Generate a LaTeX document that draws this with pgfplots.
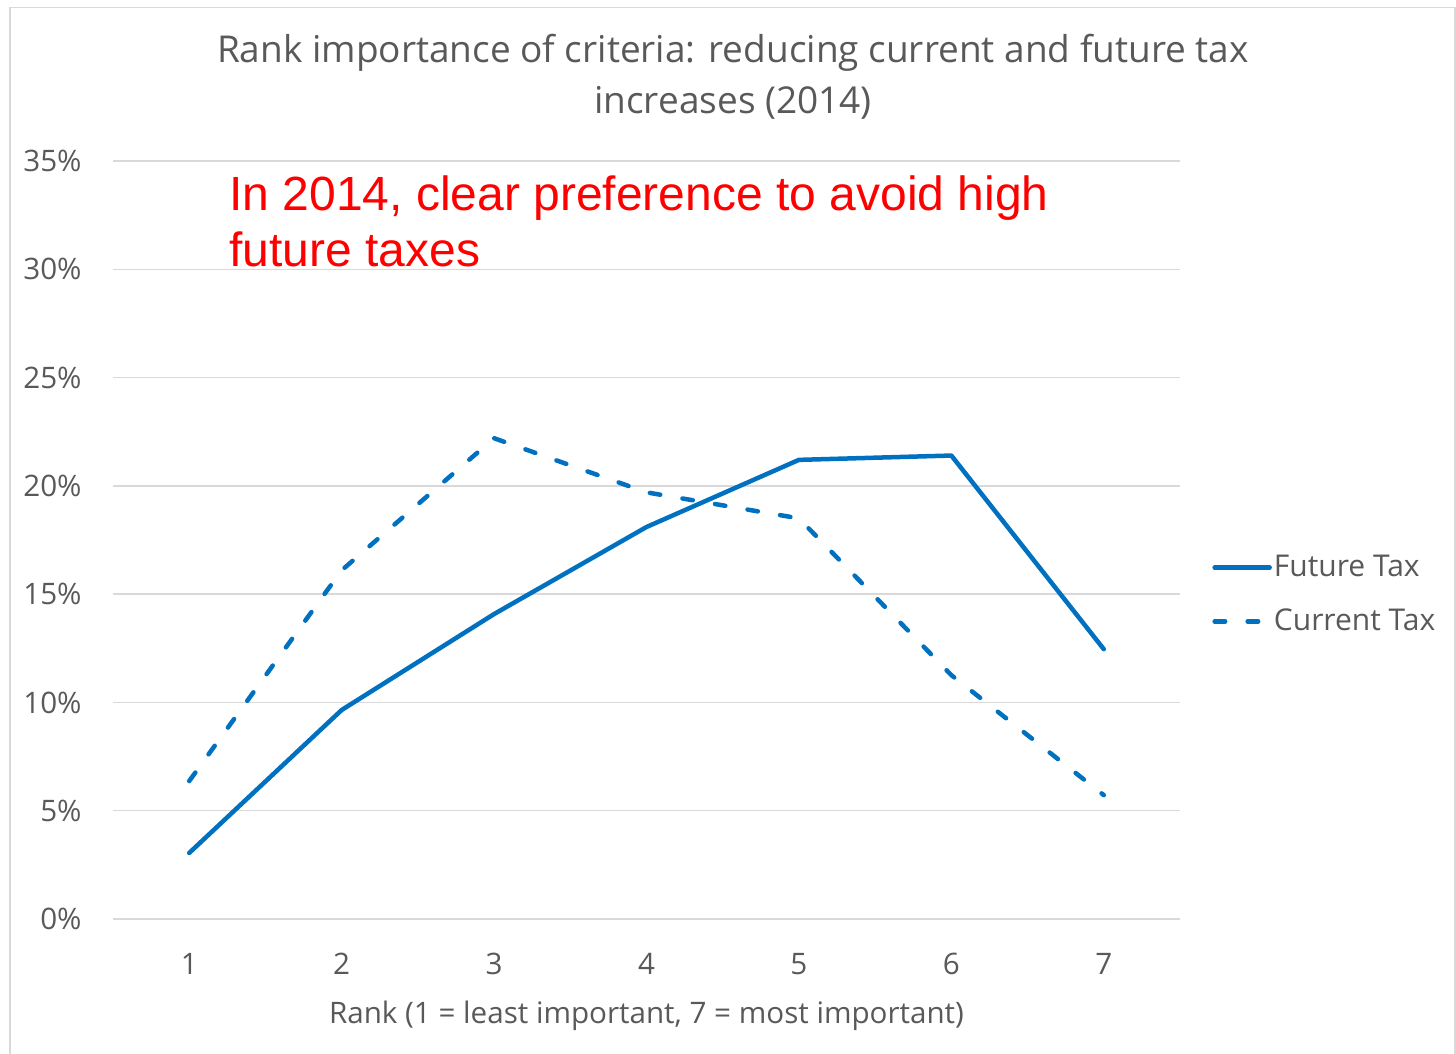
\documentclass[border=0pt]{standalone}
\usepackage{pgfplots}
\pgfplotsset{compat=1.18}
\usepackage{fontspec}
\setmainfont{Open Sans}
\newfontfamily\arialfont{Liberation Sans}
\definecolor{xlblue}{HTML}{0070C0}
\definecolor{xlgray}{HTML}{595959}
\definecolor{xlgrid}{HTML}{D9D9D9}

\begin{document}
\begin{tikzpicture}
\useasboundingbox (0,0) rectangle (728pt,-527pt);
% chart frame (bottom edge falls outside the page)
\draw[xlgrid, line width=0.75pt] (5pt,-540pt) -- (5pt,-3.75pt) -- (727.5pt,-3.75pt) -- (727.5pt,-540pt);

% chart title
\node[anchor=base, inner sep=0pt, text=xlgray, font=\fontsize{18.5}{22}\selectfont] at (366.5pt,-31.5pt)
  {Rank importance of criteria: reducing current and future tax};
\node[anchor=base, inner sep=0pt, text=xlgray, font=\fontsize{18.5}{22}\selectfont] at (366.5pt,-57pt)
  {increases (2014)};

\begin{axis}[
  at={(56.5pt,-459.5pt)}, anchor=south west,
  scale only axis, width=533.5pt, height=379pt,
  xmin=0.5, xmax=7.5, ymin=0, ymax=35,
  axis line style={draw=none},
  tick style={draw=none},
  xtick={1,...,7}, xticklabels={1,2,3,4,5,6,7},
  ytick={0,5,...,35},
  yticklabels={0\%,5\%,10\%,15\%,20\%,25\%,30\%,35\%},
  ymajorgrids, grid style={xlgrid, line width=0.75pt},
  tick label style={font=\fontsize{14.8}{17}\selectfont, text=xlgray, inner sep=0pt},
  xticklabel style={anchor=base, yshift=-27.5pt},
  yticklabel style={anchor=east, xshift=-15.5pt},
  xlabel={Rank (1 = least important, 7 = most important)},
  xlabel style={at={(axis description cs:0.5,0)}, anchor=base, yshift=-52pt,
    inner sep=0pt, font=\fontsize{14.8}{17}\selectfont, text=xlgray},
  legend style={at={(axis description cs:1.030,0.428)}, anchor=west,
    draw=none, fill=none, font=\fontsize{15}{17}\selectfont, text=xlgray,
    row sep=12.5pt, inner sep=0pt, nodes={inner sep=1pt}},
  legend cell align=left,
  legend image code/.code={\draw[#1] (0pt,0pt) -- (27.5pt,0pt);},
  clip=false,
]
\addplot[xlblue, line width=2.25pt, line join=round, line cap=round]
  coordinates {(1,3.05) (2,9.65) (3,14.08) (4,18.1) (5,21.2) (6,21.4) (7,12.46)};
\addlegendentry{Future Tax}
\addplot[xlblue, line width=2.25pt, line join=round, line cap=round, dash pattern=on 5.25pt off 11.25pt]
  coordinates {(1,6.37) (2,16.1) (3,22.2) (4,19.7) (5,18.5) (6,11.26) (7,5.72)};
\addlegendentry{Current Tax}
\end{axis}

% annotation
\node[anchor=base west, inner sep=0pt, text=red, font=\arialfont\fontsize{24}{28}\selectfont] at (114.5pt,-105pt)
  {In 2014, clear preference to avoid high};
\node[anchor=base west, inner sep=0pt, text=red, font=\arialfont\fontsize{24}{28}\selectfont] at (114.5pt,-133pt)
  {future taxes};
\end{tikzpicture}
\end{document}
